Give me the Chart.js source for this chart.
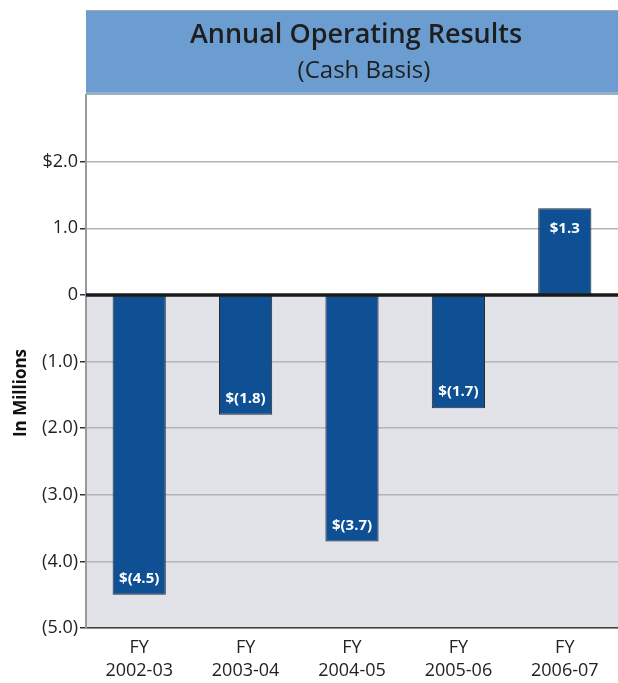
<!DOCTYPE html>
<html>
<head>
<meta charset="utf-8">
<script src="https://cdn.jsdelivr.net/npm/chart.js@4"></script>
<style>
  body { margin: 0; background: #fff; }
  #wrap { width: 618px; height: 683px; }
</style>
</head>
<body>
<div id="wrap"><canvas id="barChart" width="618" height="683"></canvas></div>
<script>
// chart data
const years = [['FY', '2002-03'], ['FY', '2003-04'], ['FY', '2004-05'], ['FY', '2005-06'], ['FY', '2006-07']];
const results = [-4.5, -1.8, -3.7, -1.7, 1.3];
const barLabels = ['$(4.5)', '$(1.8)', '$(3.7)', '$(1.7)', '$1.3'];
const yTicks = { '2': '$2.0', '1': '1.0', '0': '0', '-1': '(1.0)', '-2': '(2.0)', '-3': '(3.0)', '-4': '(4.0)', '-5': '(5.0)' };

const font = '"Open Sans", "Noto Sans", sans-serif';

// title box, shaded negative area, zero line and bar labels
const decorations = {
    id: 'decorations',
    beforeDraw(chart) {
        const { ctx, chartArea } = chart;
        const y = chart.scales.y;
        const zero = y.getPixelForValue(0);
        ctx.save();
        ctx.fillStyle = '#e1e3e9';
        ctx.fillRect(chartArea.left, zero, chartArea.right - chartArea.left, chartArea.bottom - zero);

        // title box
        ctx.fillStyle = '#6b9dd1';
        ctx.fillRect(chartArea.left, 10, chart.width - chartArea.left, chartArea.top - 10);
        ctx.fillStyle = '#9ab0c8';
        ctx.fillRect(chartArea.left, chartArea.top - 3, chart.width - chartArea.left, 3);
        ctx.strokeStyle = '#a8a8a8';
        ctx.lineWidth = 1;
        ctx.beginPath();
        ctx.moveTo(chartArea.left, 10.5);
        ctx.lineTo(chart.width, 10.5);
        ctx.stroke();

        const cx = (chartArea.left + chart.width) / 2;
        ctx.fillStyle = '#1e1e1e';
        ctx.textAlign = 'center';
        ctx.textBaseline = 'middle';
        ctx.font = '600 27px ' + font;
        ctx.fillText('Annual Operating Results', cx + 4, 35);
        ctx.font = '24px ' + font;
        ctx.fillText('(Cash Basis)', cx + 12, 71);

        // axis title
        ctx.translate(21, 393);
        ctx.rotate(-Math.PI / 2);
        ctx.font = 'bold 17px ' + font;
        ctx.fillStyle = '#111';
        ctx.fillText('In Millions', 0, 0);
        ctx.restore();
    },
    afterDatasetsDraw(chart) {
        const { ctx, chartArea } = chart;
        const zero = chart.scales.y.getPixelForValue(0);
        ctx.save();
        ctx.strokeStyle = '#1a1a1a';
        ctx.lineWidth = 3.5;
        ctx.beginPath();
        ctx.moveTo(chartArea.left, zero);
        ctx.lineTo(chartArea.right, zero);
        ctx.stroke();

        const meta = chart.getDatasetMeta(0);
        ctx.fillStyle = '#fff';
        ctx.textAlign = 'center';
        ctx.textBaseline = 'middle';
        ctx.font = 'bold 15px ' + font;
        meta.data.forEach((bar, i) => {
            const off = results[i] < 0 ? -16 : 20;
            ctx.fillText(barLabels[i], bar.x, bar.y + off);
        });
        ctx.restore();
    }
};

const config = {
    type: 'bar',
    data: {
        labels: years,
        datasets: [{
            data: results,
            backgroundColor: '#0f4f93',
            borderColor: '#2b2b2b',
            borderWidth: 1,
            borderSkipped: false,
            categoryPercentage: 1,
            barPercentage: 0.5
        }]
    },
    options: {
        responsive: false,
        animation: false,
        layout: { padding: { top: 95, right: 0, left: 0, bottom: 0 } },
        plugins: {
            legend: { display: false },
            tooltip: { enabled: false }
        },
        scales: {
            x: {
                grid: { display: false },
                border: { color: '#444', width: 1.5 },
                ticks: {
                    color: '#222',
                    font: { family: font, size: 18, lineHeight: 1.3 },
                    padding: 0
                },
                afterFit(scale) { scale.height = 55; }
            },
            y: {
                min: -5,
                max: 3,
                border: { color: '#9a9a9a', width: 2 },
                grid: {
                    color: ctx => (ctx.tick && (ctx.tick.value === 3 || ctx.tick.value === 0)) ? 'rgba(0,0,0,0)' : '#b4b4b4',
                    tickColor: ctx => (ctx.tick && ctx.tick.value === 3) ? 'rgba(0,0,0,0)' : '#333',
                    tickLength: 6,
                    lineWidth: 1.5
                },
                ticks: {
                    stepSize: 1,
                    color: '#222',
                    padding: 2,
                    font: { family: font, size: 18 },
                    callback: value => yTicks[String(value)] || ''
                },
                afterFit(scale) { scale.width = 86; }
            }
        }
    },
    plugins: [decorations]
};

const chart = new Chart(document.getElementById('barChart'), config);
</script>
</body>
</html>
